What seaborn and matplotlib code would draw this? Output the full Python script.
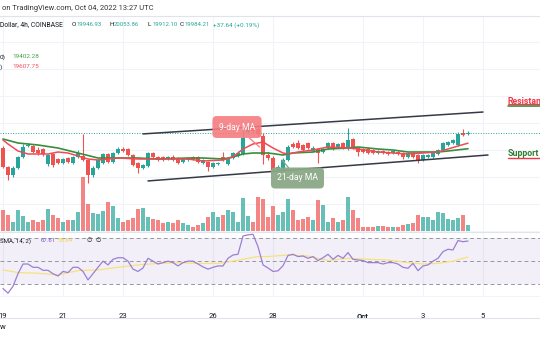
import numpy as np
import pandas as pd
import matplotlib
matplotlib.use("Agg")
import matplotlib.pyplot as plt
import seaborn as sns
from matplotlib.lines import Line2D

sns.set_theme(style="white")
plt.rcParams['font.family'] = ['Roboto', 'DejaVu Sans']

# ---------------- data ----------------
start_time = "2022-09-19 00:00"   # first visible 4h candle
opens = [19429,18726,18430,18689,19096,19503,19503,19355,19392,18837,
         19207,19022,18874,19059,18874,19096,19133,18985,18430,18689,
         18874,19207,18911,19244,19392,19392,19170,18874,18689,18763,
         19244,19096,19096,19022,19096,19059,18911,18985,19096,19096,
         18874,18911,18726,18837,19096,18837,19059,19133,19207,20021,
         20206,20132,19873,19170,19059,18615,18615,18985,19577,19614,
         19540,19614,19318,19392,19281,19429,19614,19466,19614,19429,
         19762,19429,19392,19392,19355,19244,19318,19281,19244,19281,
         19244,19096,19244,19170,18985,19096,19096,19207,19355,19540,
         19614,19540,19984,19946.93]
highs = [19503,18763,18763,19133,19577,19614,19540,19466,19429,19207,
         19244,19059,19059,19096,19133,19355,19947,19022,18763,19022,
         19244,19244,19281,19466,19466,19429,19207,18911,18837,19281,
         19281,19133,19133,19133,19170,19096,19059,19096,19133,19133,
         19022,18948,18911,18911,19281,19096,19281,19318,20169,20280,
         20280,20206,19984,19281,19133,18800,19059,19540,19651,19725,
         19577,19651,19503,19429,19429,19651,19651,19614,19651,20169,
         19799,19466,19429,19429,19392,19355,19355,19318,19355,19318,
         19281,19281,19281,19207,19207,19207,19281,19392,19651,19688,
         19762,20021,20132,20053.86]
lows = [18689,18245,18356,18652,19059,19466,19244,19170,19133,18763,
        18726,18837,18837,18874,18837,19059,18948,18134,18356,18652,
        18837,18874,18874,19207,19281,19133,18763,18504,18652,18726,
        19059,18948,18948,18985,18948,18837,18874,18948,18985,18874,
        18837,18578,18689,18800,18948,18800,19022,19096,19170,19984,
        19984,19873,18837,18985,18541,18578,18578,18948,19429,19392,
        19318,19392,19281,18874,19244,19392,19355,19429,19392,19355,
        19392,19133,19244,19207,19207,19207,19207,19170,19207,19170,
        19022,19059,19059,18874,18948,19059,19059,19170,19318,19503,
        19577,19503,19873,19912.10]
closes = [18726,18430,18689,19096,19466,19540,19281,19244,19207,19170,
          18800,18874,19022,18911,19096,19244,18985,18430,18689,18985,
          19207,18911,19244,19392,19318,19170,18800,18689,18800,19244,
          19096,18985,18985,19096,18985,18874,19022,19059,19022,18911,
          18985,18726,18874,18874,18985,19059,19244,19244,19799,20206,
          20058,19947,19170,19059,18615,18726,18985,19466,19466,19429,
          19355,19429,19429,19244,19392,19614,19392,19577,19429,19725,
          19429,19281,19281,19244,19244,19318,19244,19207,19318,19207,
          19096,19244,19096,18985,19170,19170,19244,19355,19614,19651,
          19725,19947,19910,19984.21]
volumes = [2100,1570,900,2070,1470,900,1070,900,1070,2130,
           1570,1230,900,1070,1070,1900,5330,2630,1730,1670,
           1970,2830,2500,1230,900,1070,1230,2130,2230,1400,
           1130,1070,800,900,730,1070,730,570,400,570,
           730,1400,1900,1330,1570,2070,1900,900,3230,1470,
           900,3400,3130,1400,2470,1570,1900,3130,2070,1070,
           1130,1400,1070,3070,2570,900,1230,900,1070,3330,
           2070,1230,400,400,400,470,470,400,400,400,
           570,670,730,1570,1400,1330,1070,1900,1800,1130,
           1070,1230,1570,570]
# moving averages, sampled at candle indices
ma9_idx = [0,1,3,5,7,9,11,13,15,17,19,21,23,27,31,37,40,44,46,48,50,52,54,56,57,59,62,65,69,71,75,78,81,84,87,89,91,93]
ma9_val = [19725,19577,19318,19207,19207,19207,19281,19244,19133,19022,18985,19022,19059,19022,19022,19022,18948,18985,
           19096,19392,19577,19651,19429,19244,19207,19281,19355,19466,19429,19392,19281,19244,19207,19244,19281,19392,19503,19607.75]
ma21_idx = [0,3,7,11,15,19,23,27,31,37,40,44,46,48,50,53,56,58,62,65,69,71,75,78,81,84,87,89,93]
ma21_val = [19762,19614,19540,19429,19244,19059,19059,19059,19022,19059,19059,19022,19096,19207,19244,19244,19170,19244,
            19281,19392,19429,19466,19392,19355,19281,19281,19281,19318,19402.28]
rsi = [26,22,28,39,47.5,47.5,44.6,44.6,42,42,
       39,37,41,40,44.6,44.6,41,33.6,39,44.6,
       50,46.7,51.6,53,53,50,43,41,44,52.5,
       50,47.5,48.7,50,48.7,45.8,48.7,50,50,47.5,
       45,43,44.6,45.8,45.8,52.5,55.4,56,72,73,
       73.5,62.7,46.7,44,41,41.5,46,55,56,54,
       54.5,52.5,54,50.5,53,56,51.6,55,52.5,57.5,
       51.6,51,50.5,48.7,48.7,48.7,47.5,48.7,48.7,47.5,
       44.6,43.8,48,41.7,45.8,46.7,50,52.5,58.3,60.4,
       59.8,68,67,67.61]
rsi_ma_idx = [0,3,7,11,15,19,23,27,31,35,39,43,46,49,51,53,57,61,65,69,73,77,81,84,87,90,93]
rsi_ma_val = [42.3,40,39.4,38,41.7,42.3,44.6,46.7,48,48.7,48,48,50,52.5,54,54,55.4,54.5,50.5,52.5,51.6,51,48.7,47.5,48,50,53.64]
channel_upper_idx = [28, 96]
channel_upper_val = [19950, 20760]
channel_lower_idx = [29, 97]
channel_lower_val = [18210, 19170]
resistance_level = [21060, 20980]
support_level = [19045]
tick_dates = ["2022-09-19", "2022-09-21", "2022-09-23", "2022-09-26", "2022-09-28",
              "2022-10-01", "2022-10-03", "2022-10-05"]
tick_labels = ["19", "21", "23", "26", "28", "Oct", "3", "5"]

# ---------------- styling ----------------
UP, DN = "#26a69a", "#ef5350"
MA9_C, MA21_C = "#f04a55", "#388e3c"
GRID = "#f0f3fa"
TXT = "#131722"

W, H = 540, 340
fig = plt.figure(figsize=(W / 100, H / 100), dpi=100)
fig.patch.set_facecolor("white")

def box(top, bottom):
    return [0, 1 - bottom / H, 1, (bottom - top) / H]

ax_vol = fig.add_axes(box(16, 232))
ax = fig.add_axes(box(16, 232), sharex=ax_vol)
ax_rsi = fig.add_axes(box(232, 296), sharex=ax_vol)
ax_vol.set_zorder(1)
ax.set_zorder(2)
ax.patch.set_alpha(0)

o = np.array(opens, float); h = np.array(highs, float)
l = np.array(lows, float); c = np.array(closes, float)
x = np.arange(len(c))
up = c >= o
cols = np.where(up, UP, DN)

t0 = pd.Timestamp(start_time)
tick_pos = [(pd.Timestamp(d) - t0) / pd.Timedelta(hours=4) for d in tick_dates]

# volume
ax_vol.bar(x, volumes, width=0.86, color=cols, alpha=0.7, linewidth=0)
ax_vol.set_ylim(-130, 21470)
for s in ax_vol.spines.values():
    s.set_visible(False)
ax_vol.set_facecolor("white")
ax_vol.set_xticks(tick_pos)
ax_vol.xaxis.grid(True, color=GRID, lw=0.8)
ax_vol.set_yticks(np.arange(0, 21470, 2700))
ax_vol.yaxis.grid(True, color=GRID, lw=0.8)
ax_vol.tick_params(left=False, bottom=False, labelleft=False, labelbottom=False)

# candles
ax.vlines(x, l, h, color=cols, lw=0.8)
body_lo = np.minimum(o, c)
body_h = np.maximum(np.abs(c - o), 25)
ax.bar(x, body_h, bottom=body_lo, width=0.62, color=cols, linewidth=0)

# moving averages
sns.lineplot(x=ma21_idx, y=ma21_val, ax=ax, color=MA21_C, lw=1.2)
sns.lineplot(x=ma9_idx, y=ma9_val, ax=ax, color=MA9_C, lw=1.1)

# last price line
ax.axhline(c[-1], color=UP, ls=(0, (1, 1.6)), lw=0.7)

# channel
sns.lineplot(x=channel_upper_idx, y=channel_upper_val, ax=ax, color="#363a45", lw=1.1)
sns.lineplot(x=channel_lower_idx, y=channel_lower_val, ax=ax, color="#363a45", lw=1.1)

ax.set_xlim(-0.6, 107.4)
ax.set_ylim(16321, 24313)
ax.set_yticks([])
ax.tick_params(left=False, bottom=False, labelleft=False, labelbottom=False)
for k, s in ax.spines.items():
    s.set_visible(k == "top")
ax.spines["top"].set_color("#e0e3eb")
ax.spines["top"].set_linewidth(0.8)

# labels on chart
ax.annotate("9-day MA", xy=(51.3, 19466), xytext=(46.8, 20206), color="white", fontsize=6.2,
            ha="center", va="center",
            bbox=dict(boxstyle="round,pad=0.75,rounding_size=0.5", fc="#f47c80", ec="none", alpha=0.9),
            arrowprops=dict(arrowstyle="-", color="#f47c80", lw=0.9, shrinkA=0, shrinkB=0))
ax.annotate("21-day MA", xy=(55.8, 18985), xytext=(58.9, 18319), color="white", fontsize=6.2,
            ha="center", va="center",
            bbox=dict(boxstyle="round,pad=0.7,rounding_size=0.5", fc="#8aa886", ec="none", alpha=0.95),
            arrowprops=dict(arrowstyle="-", color="#8aa886", lw=0.9, shrinkA=0, shrinkB=0))

ax.text(101, 21150, "Resistance", color="#f23645", fontsize=6.3, fontweight="bold",
        ha="left", va="center", clip_on=False)
ax.plot([101, 108], [resistance_level[0]] * 2, color="#f23645", lw=0.7, clip_on=False)
ax.plot([101, 108], [resistance_level[1]] * 2, color="#2e7d32", lw=1.1, clip_on=False)
ax.text(101, 19226, "Support", color="#2e7d32", fontsize=6.3, fontweight="bold",
        ha="left", va="center", clip_on=False)
ax.plot([101, 108], [support_level[0]] * 2, color="#f23645", lw=1.0, clip_on=False)

# RSI
ax_rsi.axhspan(30, 70, color="#7e57c2", alpha=0.09, lw=0)
for lvl in (70, 50, 30):
    ax_rsi.axhline(lvl, color="#9598a1", ls=(0, (4, 3)), lw=0.7)
sns.lineplot(x=rsi_ma_idx, y=rsi_ma_val, ax=ax_rsi, color="#f7e27a", lw=0.9)
sns.lineplot(x=x, y=rsi, ax=ax_rsi, color="#9b7fd4", lw=0.9)
ax_rsi.set_ylim(19.5, 75.5)
ax_rsi.set_yticks([])
ax_rsi.set_xticks(tick_pos, tick_labels)
ax_rsi.xaxis.grid(True, color=GRID, lw=0.8)
ax_rsi.tick_params(bottom=False, left=False, pad=6.3, labelsize=5.5, labelcolor=TXT)
for lab in ax_rsi.get_xticklabels():
    if lab.get_text() == "Oct":
        lab.set_fontweight("bold")
for k, s in ax_rsi.spines.items():
    s.set_visible(k in ("top", "bottom"))
    s.set_color("#e0e3eb")
    s.set_linewidth(0.8)
ax_rsi.spines["bottom"].set_color("#f0f3fa")
ax_rsi.set_xlim(-0.6, 107.4)
ax_rsi.set_xlabel("")
ax_rsi.set_ylabel("")
ax.set_xlabel(""); ax.set_ylabel("")

fig.add_artist(Line2D([0, 1], [1 - 318 / H] * 2, color="#e0e3eb", lw=0.8))

# header / legend texts
def ftext(px, py, s, color=TXT, size=5.0, **kw):
    fig.text(px / W, 1 - py / H, s, color=color, fontsize=size, va="center", ha="left", **kw)

NUM = 4.3
ftext(2, 9, "on TradingView.com, Oct 04, 2022 13:27 UTC", size=5.4, color="#333333")
ftext(0, 25, "Dollar, 4h, COINBASE", size=4.9)
for lx, letter, vx, val in [(72, "O", 76, "19946.93"), (110, "H", 114, "20053.86"),
                            (147, "L", 152, "19912.10"), (180, "C", 184, "19984.21")]:
    ftext(lx, 25, letter, size=4.6)
    ftext(vx, 25, val, color=UP, size=NUM)
ftext(213, 25, "+37.64 (+0.19%)", color=UP, size=4.6)
ftext(0, 57, "0)", size=4.6)
ftext(12, 57, "19402.28", color="#43a047", size=4.6)
ftext(0, 67, ")", size=4.6)
ftext(12, 67, "19607.75", color="#f05060", size=4.6)
ftext(0, 241, "SMA, 14, 2)", size=4.4)
ftext(41, 241, "67.61", color="#7e57c2", size=NUM)
ftext(58, 241, "53.64", color="#f2d54a", size=NUM)
ftext(87, 241, "\u2205", size=4.6)
ftext(96, 241, "\u2205", size=4.6)
ftext(0, 327, "w", size=5.5)

fig.savefig("out.png", dpi=100, facecolor="white")
